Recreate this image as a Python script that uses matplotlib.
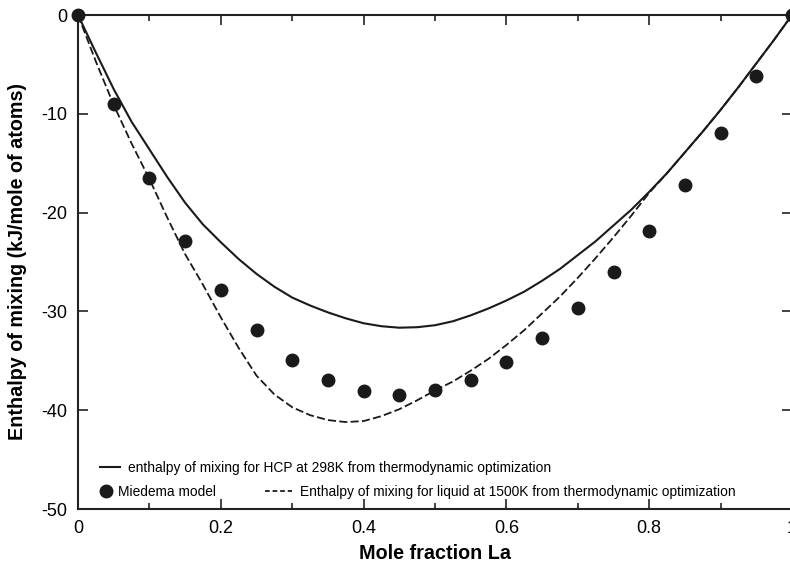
import matplotlib.pyplot as plt
from matplotlib.lines import Line2D
from matplotlib.ticker import MultipleLocator, FuncFormatter

plt.rcParams['font.family'] = ['Liberation Sans', 'DejaVu Sans']
plt.rcParams['axes.unicode_minus'] = False

# curves from thermodynamic optimization, read every 0.025
x_curve = [0, 0.025, 0.05, 0.075, 0.1, 0.125, 0.15, 0.175, 0.2, 0.225, 0.25, 0.275,
           0.3, 0.325, 0.35, 0.375, 0.4, 0.425, 0.45, 0.475, 0.5, 0.525, 0.55, 0.575,
           0.6, 0.625, 0.65, 0.675, 0.7, 0.725, 0.75, 0.775, 0.8, 0.825, 0.85, 0.875,
           0.9, 0.925, 0.95, 0.975, 1.0]
# HCP at 298K
h_hcp = [0, -3.8, -7.5, -10.8, -13.6, -16.4, -19.0, -21.2, -23.0, -24.7, -26.2, -27.5,
         -28.6, -29.4, -30.1, -30.7, -31.2, -31.5, -31.65, -31.6, -31.4, -31.0, -30.4, -29.7,
         -28.9, -28.0, -26.9, -25.7, -24.3, -22.9, -21.3, -19.7, -17.9, -16.0, -13.9, -11.8,
         -9.6, -7.3, -4.9, -2.5, 0]
# liquid at 1500K
h_liq = [0, -4.7, -9.1, -13.0, -16.6, -20.5, -24.2, -27.3, -30.6, -33.7, -36.5, -38.4,
         -39.7, -40.5, -41.0, -41.2, -41.1, -40.6, -39.9, -39.0, -38.0, -37.1, -36.0, -34.8,
         -33.4, -31.9, -30.2, -28.5, -26.6, -24.6, -22.5, -20.3, -18.0, -16.0, -13.9, -11.8,
         -9.6, -7.3, -4.9, -2.5, 0]

# Miedema model
x_mied = [0, 0.05, 0.1, 0.15, 0.2, 0.25, 0.3, 0.35, 0.4, 0.45, 0.5,
          0.55, 0.6, 0.65, 0.7, 0.75, 0.8, 0.85, 0.9, 0.95, 1.0]
h_mied = [0, -9.0, -16.5, -22.9, -27.8, -31.9, -34.9, -36.9, -38.1, -38.5, -38.0,
          -36.9, -35.1, -32.7, -29.7, -26.0, -21.9, -17.2, -11.9, -6.2, 0]

ink = '#1a1a1a'
dash = (0, (4.5, 1.8))

fig = plt.figure(figsize=(7.9, 5.68), dpi=100)
ax = fig.add_axes([78 / 790, 59 / 568, 714 / 790, 494 / 568])

ax.plot(x_curve, h_hcp, color=ink, lw=1.5)
ax.plot(x_curve, h_liq, color=ink, lw=1.3, ls=dash)
ax.plot(x_mied, h_mied, 'o', color=ink, ms=9, clip_on=False, zorder=5)

ax.set_xlim(0, 1)
ax.set_ylim(-50, 0)
ax.xaxis.set_major_locator(MultipleLocator(0.2))
ax.xaxis.set_minor_locator(MultipleLocator(0.1))
ax.yaxis.set_major_locator(MultipleLocator(10))
ax.xaxis.set_major_formatter(FuncFormatter(lambda v, p: '%g' % round(v, 1)))
ax.tick_params(which='both', direction='in', top=True, right=True, labelsize=13, pad=8,
               width=1.2, color='#222222')
ax.tick_params(which='major', length=7)
ax.tick_params(which='minor', length=4)
for s in ax.spines.values():
    s.set_linewidth(1.5)
    s.set_color('#222222')

ax.set_xlabel('Mole fraction La', fontsize=14.2, fontweight='bold', labelpad=5)
ax.set_ylabel('Enthalpy of mixing (kJ/mole of atoms)', fontsize=14.2, fontweight='bold', labelpad=10)

# legend: three separate pieces laid out as in the original
fs = 9.9
kw = dict(loc='center left', frameon=False, fontsize=fs, borderpad=0, borderaxespad=0)
h1 = Line2D([], [], color=ink, lw=1.5)
h2 = Line2D([], [], color=ink, marker='o', ls='none', ms=9)
h3 = Line2D([], [], color=ink, lw=1.3, ls=(0, (2.6, 1.6)))
leg1 = ax.legend([h1], ['enthalpy of mixing for HCP at 298K from thermodynamic optimization'],
                 bbox_to_anchor=(0.031, 0.083), handlelength=1.45, handletextpad=0.58, **kw)
ax.add_artist(leg1)
leg2 = ax.legend([h2], ['Miedema model'],
                 bbox_to_anchor=(0.031, 0.034), handlelength=0.8, handletextpad=0.47, **kw)
ax.add_artist(leg2)
ax.legend([h3], ['Enthalpy of mixing for liquid at 1500K from thermodynamic optimization'],
          bbox_to_anchor=(0.262, 0.034), handlelength=1.96, handletextpad=0.58, **kw)

fig.savefig('out.png', dpi=100)
